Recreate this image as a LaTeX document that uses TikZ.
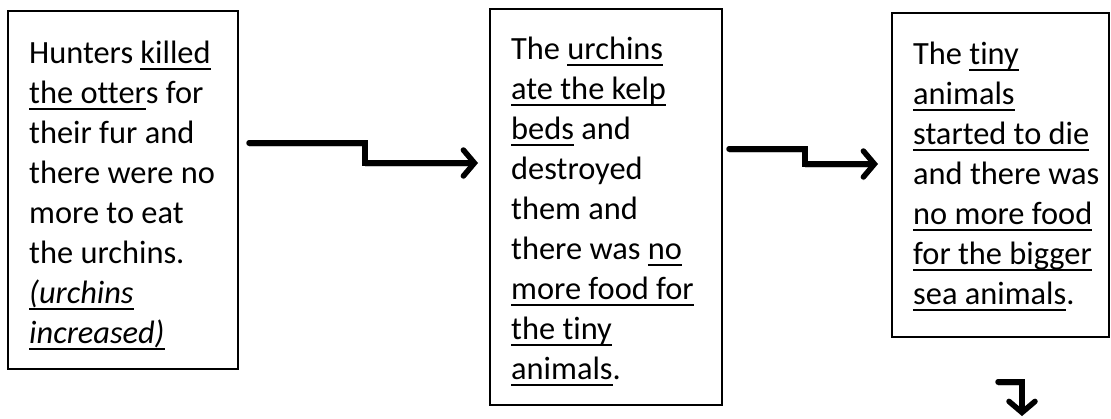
\documentclass[tikz,border=0pt]{standalone}
\usepackage{fontspec}
\setmainfont[Ligatures={NoCommon,NoContextual}]{Carlito}
\usetikzlibrary{arrows.meta}
\newcommand{\myul}[1]{\leavevmode\setbox0\hbox{#1}\rlap{\vrule height -4.5pt depth 6.5pt width \wd0}\box0\relax}
\newcommand{\boxtext}[1]{\vtop{\hsize=260pt\parindent=0pt\parskip=0pt\raggedright\fontsize{32.4}{40}\selectfont #1}}
\tikzset{
  box/.style={draw=black, line width=1.6pt, anchor=north west, inner sep=0pt},
  txt/.style={anchor=base west, inner sep=0pt},
  elbow/.style={line width=5.5pt, line cap=round, line join=miter,
    -{Straight Barb[length=11pt,width=26pt,line cap=round]},
    preaction={draw=black!22, transform canvas={shift={(0,3.5)}}}}
}
\begin{document}
\begin{tikzpicture}[x=1pt,y=-1pt]
\useasboundingbox (0,0) rectangle (1111,418);
% boxes
\node[box, minimum width=230pt, minimum height=358pt] (b1) at (7,10) {};
\node[box, minimum width=232pt, minimum height=396pt] (b2) at (489,8) {};
\node[box, minimum width=217pt, minimum height=324pt] (b3) at (891,12) {};
% texts
\node[txt] (t1) at (29,63.5) {\boxtext{Hunters \myul{killed}\\
\myul{the otter}s for\\
their fur and\\
there were no\\
more to eat\\
the urchins.\\
\textit{\myul{(urchins}}\\
\textit{\myul{increased)}}}};
\node[txt] (t2) at (511,59) {\boxtext{The \myul{urchins}\\
\myul{ate the kelp}\\
\myul{beds} and\\
destroyed\\
them and\\
there was \myul{no}\\
\myul{more food for}\\
\myul{the tiny}\\
\myul{animals}.}};
\node[txt] (t3) at (913,64) {\boxtext{The \myul{tiny}\\
\myul{animals}\\
\myul{started to die}\\
and there was\\
\myul{no more food}\\
\myul{for the bigger}\\
\myul{sea animals}.}};
% arrow anchor points
\coordinate (a1s) at (249,143);
\coordinate (a1e) at (478,163);
\coordinate (a2s) at (729,149);
\coordinate (a2e) at (878,164);
\coordinate (a3s) at (998,382);
\coordinate (a3e) at (1022,416);
\draw[elbow] (a1s) -- (365,143) -- (365,163) -- (a1e);
\draw[elbow] (a2s) -- (805,149) -- (805,164) -- (a2e);
\draw[elbow] (a3s) -- (a3e |- a3s) -- (a3e);
\end{tikzpicture}
\end{document}
